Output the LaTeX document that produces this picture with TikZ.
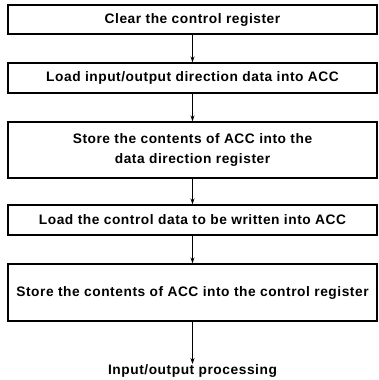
\documentclass[tikz,border=0pt]{standalone}
\usepackage{fontspec}
\setmainfont{Liberation Sans}[LetterSpace=4]
\usetikzlibrary{arrows.meta}
\begin{document}
\begin{tikzpicture}[x=1bp,y=-1bp,
  box/.style={draw=black, line width=1.3bp, minimum width=369bp, inner sep=0pt, align=center, font=\fontsize{13.8}{21}\selectfont\bfseries},
  flow/.style={draw=black, line width=1.3bp, -{Stealth[length=6bp,width=4bp]}},
  lbl/.style={inner sep=0pt, font=\fontsize{13.8}{21}\selectfont\bfseries}]
\useasboundingbox (0,0) rectangle (379,380);
\node[box, minimum height=29bp] (b1) at (192.5,19.5) {Clear the control register};
\node[box, minimum height=30bp] (b2) at (192.5,78) {Load input/output direction data into ACC};
\node[box, minimum height=56bp] (b3) at (192.5,150) {Store the contents of ACC into the\\data direction register};
\node[box, minimum height=30bp] (b4) at (192.5,220) {Load the control data to be written into ACC};
\node[box, minimum height=57bp] (b5) at (192.5,292.5) {Store the contents of ACC into the control register};
\node[lbl, anchor=north] (out) at (192.5,364) {Input/output processing};
\draw[flow] (b1.south) -- (b2.north);
\draw[flow] (b2.south) -- (b3.north);
\draw[flow] (b3.south) -- (b4.north);
\draw[flow] (b4.south) -- (b5.north);
\draw[flow] (b5.south) -- (out.north);
\end{tikzpicture}
\end{document}
